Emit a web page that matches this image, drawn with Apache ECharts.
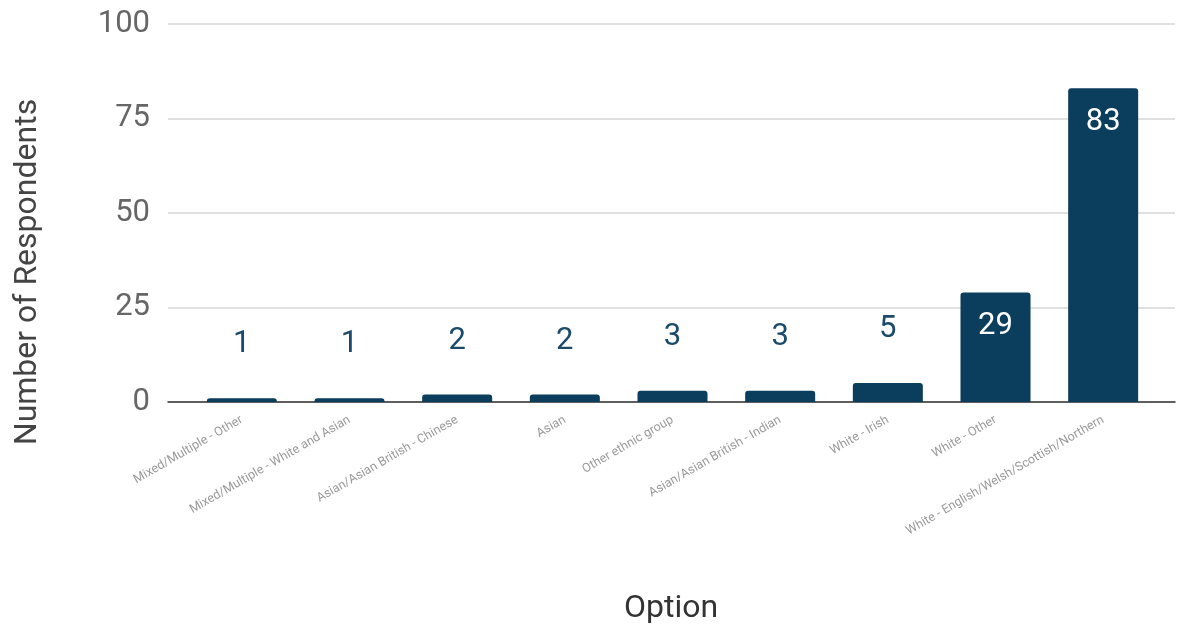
<!DOCTYPE html>
<html>
<head>
<meta charset="utf-8">
<script src="https://cdn.jsdelivr.net/npm/echarts@6/dist/echarts.min.js"></script>
<style>html,body{margin:0;padding:0;background:#fff;}#c{width:1177px;height:633px;}</style>
</head>
<body>
<div id="c"></div>
<script>
const categories = [
  "Mixed/Multiple - Other",
  "Mixed/Multiple - White and Asian",
  "Asian/Asian British - Chinese",
  "Asian",
  "Other ethnic group",
  "Asian/Asian British - Indian",
  "White - Irish",
  "White - Other",
  "White - English/Welsh/Scottish/Northern"
];
const respondents = [1, 1, 2, 2, 3, 3, 5, 29, 83];
const yTicks = [0, 25, 50, 75, 100];
const yTitle = 'Number of Respondents';
const xTitle = 'Option';

const barColor = '#0b3d5c';
const font = 'Roboto, "Liberation Sans", sans-serif';

const chart = echarts.init(document.getElementById('c'));
chart.setOption({
  backgroundColor: '#fff',
  animation: false,
  textStyle: { fontFamily: font },
  graphic: [{
    type: 'text', x: 28, y: 272, rotation: Math.PI / 2,
    style: { text: yTitle, fontSize: 32, fill: '#444', fontFamily: font,
             textAlign: 'center', textVerticalAlign: 'middle' }
  }, {
    type: 'text', x: 671, y: 609,
    style: { text: xTitle, fontSize: 32, fill: '#333', fontFamily: font,
             textAlign: 'center', textVerticalAlign: 'middle' }
  }],
  grid: [
    { left: 168, right: 2, top: 24, bottom: 231, containLabel: false, outerBoundsMode: 'none' },
    { left: 188, right: 20, top: 24, bottom: 231, containLabel: false, outerBoundsMode: 'none' }
  ],
  xAxis: [
    { type: 'category', gridIndex: 0, data: categories, axisLabel: { show: false },
      axisTick: { show: false }, axisLine: { show: true, lineStyle: { color: '#333', width: 1.5 } } },
    { type: 'category', gridIndex: 1, data: categories, axisTick: { show: false },
      axisLine: { show: false },
      axisLabel: { rotate: 30, fontSize: 12.5, color: '#9a9a9a', margin: 17, interval: 0,
                   fontFamily: font } }
  ],
  yAxis: [
    { type: 'value', gridIndex: 0, min: yTicks[0], max: yTicks[yTicks.length - 1], interval: 25,
      axisLabel: { fontSize: 31, color: '#666', margin: 18, fontFamily: font },
      splitLine: { lineStyle: { color: '#d6d6d6', width: 1.5 } },
      axisLine: { show: false }, axisTick: { show: false } },
    { type: 'value', gridIndex: 1, min: yTicks[0], max: yTicks[yTicks.length - 1], interval: 25,
      show: false, splitLine: { show: false } }
  ],
  series: [{
    type: 'bar',
    xAxisIndex: 1, yAxisIndex: 1,
    barWidth: 70,
    itemStyle: { color: barColor, borderRadius: [3, 3, 0, 0] },
    data: respondents.map(v => ({
      value: v,
      label: v > 20
        ? { show: true, position: 'insideTop', distance: 18, color: '#fff', fontSize: 31, fontFamily: font }
        : { show: true, position: 'top', distance: 38, color: '#1b4a6b', fontSize: 31, fontFamily: font }
    }))
  }]
});
</script>
</body>
</html>
